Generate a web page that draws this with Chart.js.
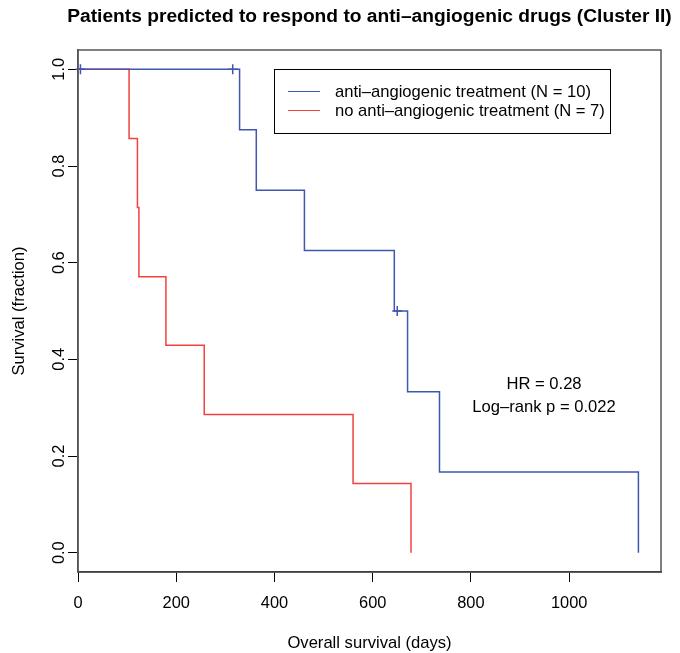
<!DOCTYPE html>
<html>
<head>
<meta charset="utf-8">
<script src="https://cdn.jsdelivr.net/npm/chart.js@4"></script>
<style>
  html, body { margin: 0; padding: 0; background: #fff; }
  canvas { display: block; }
</style>
</head>
<body>
<canvas id="km" width="680" height="653"></canvas>
<script>
// Kaplan-Meier curves
const treatedDays = [0, 329, 363, 461, 644, 671, 736, 1141];
const treatedSurv = [1, 0.875, 0.75, 0.625, 0.5, 0.333, 0.167, 0];
const treatedCensorDays = [5, 315, 650];
const treatedCensorSurv = [1, 1, 0.5];
const untreatedDays = [0, 104, 121, 124, 179, 257, 560, 678];
const untreatedSurv = [1, 0.857, 0.714, 0.571, 0.429, 0.286, 0.143, 0];

const xTicks = [0, 200, 400, 600, 800, 1000];
const yTicks = [0, 0.2, 0.4, 0.6, 0.8, 1.0];
const seriesLabels = ['anti–angiogenic treatment (N = 10)', 'no anti–angiogenic treatment (N = 7)'];
const statsLines = ['HR = 0.28', 'Log–rank p = 0.022'];
const titleText = 'Patients predicted to respond to anti–angiogenic drugs (Cluster II)';
const xTitle = 'Overall survival (days)';
const yTitle = 'Survival (fraction)';

const BLUE = '#3f57ae';
const RED = '#f24141';
const FONT = '"Liberation Sans", Arial, Helvetica, sans-serif';

const toPoints = (xs, ys) => xs.map((x, i) => ({ x, y: ys[i] }));

// ── R-style decorations: box, labels, legend, stats ──
const rStyle = {
  id: 'rStyle',
  afterDraw(chart) {
    const { ctx, chartArea: a, scales: { x, y } } = chart;
    ctx.save();

    // plot box
    ctx.strokeStyle = '#555';
    ctx.lineWidth = 1.5;
    ctx.strokeRect(a.left, a.top, a.right - a.left, a.bottom - a.top);

    ctx.fillStyle = '#000';
    ctx.textBaseline = 'alphabetic';

    // title
    ctx.font = 'bold 19.2px ' + FONT;
    ctx.textAlign = 'center';
    ctx.fillText(titleText, (a.left + a.right) / 2, 21.5);

    // x tick labels + title
    ctx.font = '16.4px ' + FONT;
    x.ticks.forEach(t => ctx.fillText(String(t.value), x.getPixelForValue(t.value), 608));
    ctx.font = '16.6px ' + FONT;
    ctx.fillText(xTitle, (a.left + a.right) / 2, 648);

    // y tick labels (rotated like R's las = 0)
    ctx.font = '16.4px ' + FONT;
    y.ticks.forEach(t => {
      ctx.save();
      ctx.translate(63.5, y.getPixelForValue(t.value));
      ctx.rotate(-Math.PI / 2);
      ctx.fillText(t.value.toFixed(1), 0, 0);
      ctx.restore();
    });
    ctx.font = '16.6px ' + FONT;
    ctx.save();
    ctx.translate(24, (a.top + a.bottom) / 2);
    ctx.rotate(-Math.PI / 2);
    ctx.fillText(yTitle, 0, 0);
    ctx.restore();

    // legend
    ctx.strokeStyle = '#000';
    ctx.lineWidth = 1;
    ctx.strokeRect(274.5, 69.5, 336, 64);
    const colors = [BLUE, RED];
    ctx.textAlign = 'left';
    seriesLabels.forEach((lab, i) => {
      const base = 97 + i * 19;
      ctx.strokeStyle = colors[i];
      ctx.beginPath();
      ctx.moveTo(288, base - 5.5);
      ctx.lineTo(320, base - 5.5);
      ctx.stroke();
      ctx.fillText(lab, 335, base);
    });

    // HR / log-rank
    ctx.textAlign = 'center';
    statsLines.forEach((s, i) => ctx.fillText(s, 544, 389 + i * 23));

    ctx.restore();
  }
};

new Chart(document.getElementById('km'), {
  type: 'line',
  data: {
    datasets: [
      {
        label: seriesLabels[0],
        data: toPoints(treatedDays, treatedSurv),
        borderColor: BLUE,
        borderWidth: 1.5,
        stepped: 'before',
        pointRadius: 0,
        fill: false,
      },
      {
        type: 'scatter',
        label: 'censored',
        data: toPoints(treatedCensorDays, treatedCensorSurv),
        pointStyle: 'cross',
        pointRadius: 5,
        borderColor: BLUE,
        borderWidth: 1.5,
        showLine: false,
        clip: 10,
      },
      {
        label: seriesLabels[1],
        data: toPoints(untreatedDays, untreatedSurv),
        borderColor: RED,
        borderWidth: 1.5,
        stepped: 'before',
        pointRadius: 0,
        fill: false,
      }
    ]
  },
  options: {
    responsive: false,
    animation: false,
    events: [],
    layout: { padding: { top: 50, right: 19, left: 0, bottom: 0 } },
    plugins: {
      legend: { display: false },
      tooltip: { enabled: false },
      title: { display: false }
    },
    scales: {
      x: {
        type: 'linear',
        min: 0, max: 1187,
        afterBuildTicks: s => { s.ticks = xTicks.map(v => ({ value: v })); },
        afterFit: s => { s.height = 81; },
        ticks: { display: false },
        grid: { drawOnChartArea: false, tickLength: 10, color: '#000', lineWidth: 1 },
        border: { color: '#000', width: 1.5 }
      },
      y: {
        type: 'linear',
        min: -0.04, max: 1.04,
        afterBuildTicks: s => { s.ticks = yTicks.map(v => ({ value: v })); },
        afterFit: s => { s.width = 78; },
        ticks: { display: false },
        grid: { drawOnChartArea: false, tickLength: 10, color: '#000', lineWidth: 1 },
        border: { color: '#555', width: 1.5 }
      }
    }
  },
  plugins: [rStyle]
});
</script>
</body>
</html>
